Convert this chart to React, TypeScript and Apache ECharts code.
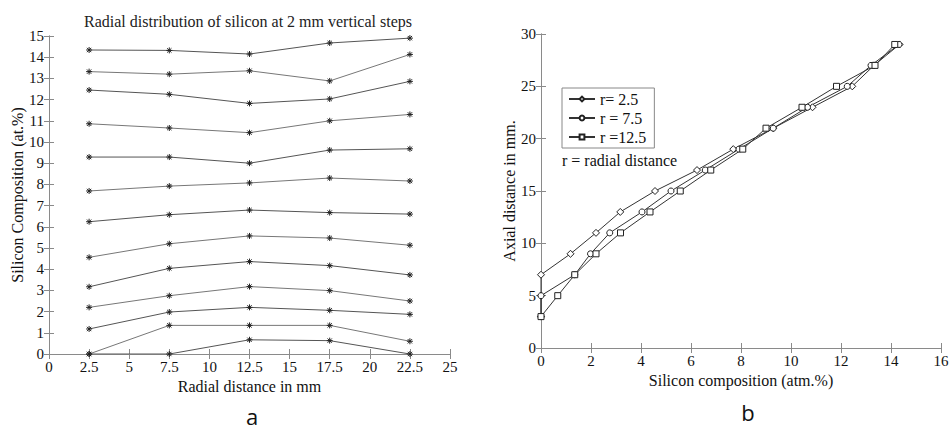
import React, { useEffect, useRef } from "react";
import * as echarts from "echarts";

// ---- Panel a: radial distribution (Si at.% vs radial distance) ----
const radialDistance = [2.5, 7.5, 12.5, 17.5, 22.5];
const si_z29 = [14.34, 14.32, 14.15, 14.67, 14.9];
const si_z27 = [13.32, 13.2, 13.36, 12.88, 14.13];
const si_z25 = [12.45, 12.25, 11.82, 12.03, 12.86];
const si_z23 = [10.86, 10.66, 10.44, 11.0, 11.3];
const si_z21 = [9.29, 9.29, 9.0, 9.62, 9.68];
const si_z19 = [7.69, 7.92, 8.07, 8.3, 8.16];
const si_z17 = [6.24, 6.57, 6.79, 6.67, 6.6];
const si_z15 = [4.56, 5.2, 5.57, 5.47, 5.13];
const si_z13 = [3.17, 4.04, 4.36, 4.17, 3.73];
const si_z11 = [2.2, 2.75, 3.18, 2.99, 2.5];
const si_z9 = [1.18, 1.98, 2.2, 2.06, 1.87];
const si_z7 = [0, 1.35, 1.35, 1.35, 0.6];
const si_z5 = [0, 0, 0.67, 0.63, 0];
const profilesA = [si_z29, si_z27, si_z25, si_z23, si_z21, si_z19, si_z17, si_z15, si_z13, si_z11, si_z9, si_z7, si_z5];

// ---- Panel b: axial distance vs Si composition ----
const axialDistance = [3, 5, 7, 9, 11, 13, 15, 17, 19, 21, 23, 25, 27, 29];
const si_r2_5 = [0, 0, 0, 1.18, 2.2, 3.17, 4.56, 6.24, 7.69, 9.29, 10.86, 12.45, 13.32, 14.34];
const si_r7_5 = [0, 0, 1.35, 1.98, 2.75, 4.04, 5.2, 6.57, 7.92, 9.29, 10.66, 12.25, 13.2, 14.32];
const si_r12_5 = [0, 0.67, 1.35, 2.2, 3.18, 4.36, 5.57, 6.79, 8.07, 9.0, 10.44, 11.82, 13.36, 14.15];
const legendNames = ["r= 2.5", "r = 7.5", "r =12.5"];

const SERIF = "Liberation Serif";
const AXIS_COLOR = "#8a8a8a";
const STAR = "path://M0,-5L0,5M-5,0L5,0M-3.6,-3.6L3.6,3.6M-3.6,3.6L3.6,-3.6";

function mainAxis(min: number, max: number, interval: number, gridIndex: number, position: string, name: string, nameGap: number) {
  return {
    type: "value",
    gridIndex,
    position,
    min,
    max,
    interval,
    name,
    nameLocation: "middle",
    nameGap,
    nameTextStyle: { fontFamily: SERIF, fontSize: 16, color: "#111" },
    axisLine: { show: true, lineStyle: { color: AXIS_COLOR, width: 1 } },
    axisTick: { show: true, inside: true, length: 5, lineStyle: { color: AXIS_COLOR } },
    axisLabel: { show: true, fontFamily: SERIF, fontSize: 15, color: "#111", margin: 5 },
    splitLine: { show: false },
  };
}

function mirrorAxis(min: number, max: number, interval: number, gridIndex: number, position: string) {
  return {
    type: "value",
    gridIndex,
    position,
    min,
    max,
    interval,
    axisLine: { show: true, lineStyle: { color: AXIS_COLOR, width: 1 } },
    axisTick: { show: true, inside: true, length: 5, lineStyle: { color: AXIS_COLOR } },
    axisLabel: { show: false },
    splitLine: { show: false },
  };
}

export default function App() {
  const ref = useRef<HTMLDivElement>(null);

  useEffect(() => {
    if (!ref.current) return;
    const chart = echarts.init(ref.current, null, { renderer: "svg" });

    const seriesA = profilesA.map((vals, i) => ({
      type: "line",
      xAxisIndex: 0,
      yAxisIndex: 0,
      data: radialDistance.map((x, j) => [x, vals[j]]),
      symbol: STAR,
      symbolSize: 6,
      lineStyle: { color: i % 2 === 0 ? "#555" : "#777", width: 1 },
      itemStyle: { color: "transparent", borderColor: "#222", borderWidth: 1 },
      z: 3,
    }));

    const bSeries = [
      { name: legendNames[0], vals: si_r2_5, symbol: "diamond", size: 7 },
      { name: legendNames[1], vals: si_r7_5, symbol: "circle", size: 6 },
      { name: legendNames[2], vals: si_r12_5, symbol: "rect", size: 6 },
    ].map((s) => ({
      type: "line",
      name: s.name,
      xAxisIndex: 2,
      yAxisIndex: 2,
      data: axialDistance.map((y, j) => [s.vals[j], y]),
      symbol: s.symbol,
      symbolSize: s.size,
      lineStyle: { color: "#333", width: 1 },
      itemStyle: { color: "#fff", borderColor: "#222", borderWidth: 1 },
      z: 3,
    }));

    chart.setOption({
      animation: false,
      backgroundColor: "#fff",
      textStyle: { fontFamily: SERIF },
      grid: [
        { left: 49, top: 36, width: 401, height: 318 },
        { left: 541, top: 34, width: 400, height: 314 },
      ],
      xAxis: [
        mainAxis(0, 25, 2.5, 0, "bottom", "Radial distance in mm", 22),
        mirrorAxis(0, 25, 2.5, 0, "top"),
        mainAxis(0, 16, 2, 1, "bottom", "Silicon composition (atm.%)", 23),
        mirrorAxis(0, 16, 2, 1, "top"),
      ],
      yAxis: [
        mainAxis(0, 15, 1, 0, "left", "Silicon Composition (at.%)", 23),
        mirrorAxis(0, 15, 1, 0, "right"),
        mainAxis(0, 30, 5, 1, "left", "Axial distance in mm.", 24),
        mirrorAxis(0, 30, 5, 1, "right"),
      ],
      legend: {
        data: legendNames,
        orient: "vertical",
        left: 562,
        top: 88,
        itemWidth: 26,
        itemHeight: 6,
        itemGap: 3,
        padding: [3, 8, 3, 6],
        borderColor: "#888",
        borderWidth: 1,
        backgroundColor: "#fff",
        textStyle: { fontFamily: SERIF, fontSize: 16, color: "#111" },
      },
      graphic: [
        {
          type: "text",
          x: 248,
          y: 21,
          style: {
            text: "Radial distribution of silicon at 2 mm vertical steps",
            font: `16px "Liberation Serif"`,
            fill: "#222",
            textAlign: "center",
            textVerticalAlign: "middle",
          },
        },
        {
          type: "text",
          x: 562,
          y: 160,
          style: {
            text: "r = radial distance",
            font: `16px "Liberation Serif"`,
            fill: "#111",
            textAlign: "left",
            textVerticalAlign: "middle",
          },
        },
        {
          type: "text",
          x: 252,
          y: 416,
          style: {
            text: "a",
            font: `22px "Open Sans"`,
            fill: "#111",
            textAlign: "center",
            textVerticalAlign: "middle",
          },
        },
        {
          type: "text",
          x: 748,
          y: 412,
          style: {
            text: "b",
            font: `22px "Open Sans"`,
            fill: "#111",
            textAlign: "center",
            textVerticalAlign: "middle",
          },
        },
      ],
      series: [...seriesA, ...bSeries],
    });

    return () => chart.dispose();
  }, []);

  return (
    <div
      ref={ref}
      style={{ position: "fixed", left: 0, top: 0, width: 952, height: 432 }}
    />
  );
}
